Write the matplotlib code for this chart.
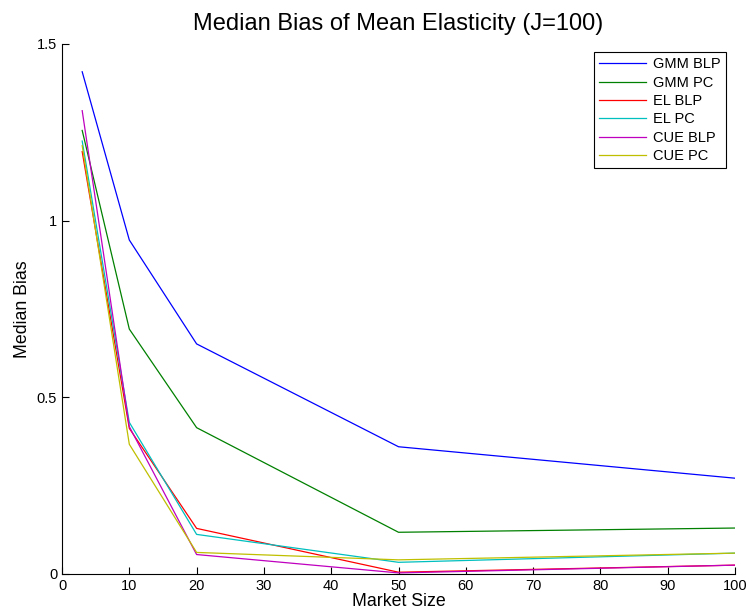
import numpy as np
import matplotlib
matplotlib.use('Agg')
import matplotlib.pyplot as plt

plt.rcParams['font.family'] = ['Liberation Sans', 'DejaVu Sans']

market_size = [3, 10, 20, 50, 100]
gmm_blp = [1.421, 0.945, 0.651, 0.360, 0.271]
gmm_pc = [1.255, 0.693, 0.414, 0.118, 0.130]
el_blp = [1.195, 0.412, 0.129, 0.005, 0.025]
el_pc = [1.225, 0.429, 0.112, 0.033, 0.059]
cue_blp = [1.311, 0.417, 0.055, 0.003, 0.025]
cue_pc = [1.212, 0.367, 0.061, 0.040, 0.059]

series = [
    ('GMM BLP', gmm_blp, '#0000ff'),
    ('GMM PC', gmm_pc, '#008000'),
    ('EL BLP', el_blp, '#ff0000'),
    ('EL PC', el_pc, '#00bfbf'),
    ('CUE BLP', cue_blp, '#bf00bf'),
    ('CUE PC', cue_pc, '#bfbf00'),
]


def main():
    fig = plt.figure(figsize=(7.47, 6.15), dpi=100)
    ax = fig.add_axes([0.083, 0.0667, 0.901, 0.862])

    for label, values, color in series:
        ax.plot(market_size, values, color=color, linewidth=0.9, label=label)

    ax.set_xlim(0, 100)
    ax.set_ylim(0, 1.5)
    ax.set_xticks(np.arange(0, 101, 10))
    ax.set_yticks([0, 0.5, 1, 1.5])
    ax.set_yticklabels(['0', '0.5', '1', '1.5'])
    ax.tick_params(direction='in', length=5, labelsize=10.5, width=0.8)
    ax.spines['top'].set_visible(False)
    ax.spines['right'].set_visible(False)

    ax.set_title('Median Bias of Mean Elasticity (J=100)', fontsize=17, pad=10)
    ax.set_xlabel('Market Size', fontsize=12.8, labelpad=0)
    ax.set_ylabel('Median Bias', fontsize=12.8, labelpad=4)

    leg = ax.legend(loc='upper right', bbox_to_anchor=(0.997, 0.998), fontsize=10.5,
                    fancybox=False, edgecolor='black', framealpha=1,
                    handlelength=3.2, labelspacing=0.3, borderpad=0.35,
                    handletextpad=0.5)
    leg.get_frame().set_linewidth(0.8)

    fig.savefig('out.png', dpi=100)


if __name__ == '__main__':
    main()
